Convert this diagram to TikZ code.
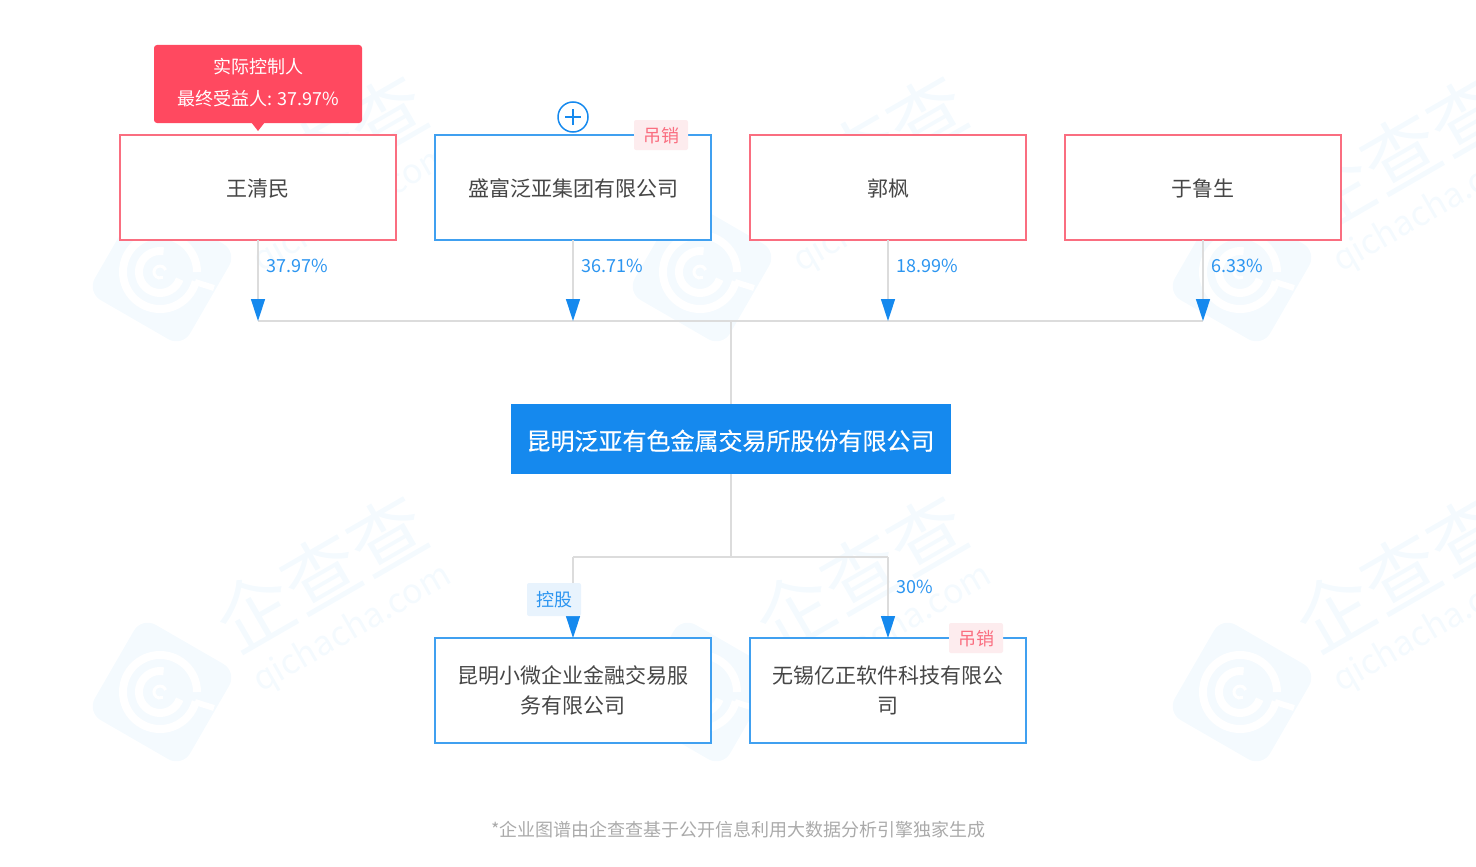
\documentclass[tikz,border=0pt]{standalone}
\usepackage{fontspec}
\usepackage{xcolor}
\usetikzlibrary{arrows.meta,positioning}
\setmainfont{Noto Sans CJK SC}
\newfontfamily\titlefont[FakeBold=0.35]{Noto Sans CJK SC}
\definecolor{nameblue}{RGB}{21,137,238}
\definecolor{boxblue}{RGB}{64,160,240}
\definecolor{boxred}{RGB}{250,110,128}
\definecolor{calloutred}{RGB}{255,73,96}
\definecolor{tagred}{RGB}{253,236,238}
\definecolor{tagblue}{RGB}{232,243,253}
\definecolor{linegrey}{RGB}{220,220,220}
\definecolor{textgrey}{RGB}{70,70,70}
\definecolor{footgrey}{RGB}{170,170,170}
\definecolor{markblue}{RGB}{244,250,254}
\tikzset{
  holder/.style={draw=boxred, fill=white, line width=2pt, minimum width=276pt, minimum height=105pt,
    inner sep=0pt, outer sep=0pt, align=center, text=textgrey, font=\fontsize{21}{30}\selectfont},
  firm/.style={holder, draw=boxblue},
  oneline/.style={text height=20.5pt, text depth=2pt},
  pct/.style={anchor=west, inner sep=0pt, text=nameblue!90!white, font=\fontsize{18}{18}\selectfont},
  tag/.style={fill=tagred, rounded corners=2pt, minimum width=54pt, minimum height=30pt, inner sep=0pt,
    text=boxred, text height=16pt, text depth=2pt, font=\fontsize{18}{18}\selectfont},
  bus/.style={draw=linegrey, line width=2pt},
  feed/.style={draw=linegrey, line width=1.5pt, -{Triangle[length=22pt,width=14pt,color=nameblue]}}
}
\newcommand{\qccmark}[2]{%
  \begin{scope}[shift={(#1,#2)}]
    \node [fill=markblue, rounded corners=16pt, rotate=-30, minimum size=110pt] (logo#1#2) at (0,0) {};
    \draw [white, line width=8pt] (35,0) arc[start angle=0, end angle=345, radius=37pt];
    \draw [white, line width=8pt] (1.6,-20.7) arc[start angle=80, end angle=340, radius=21pt];
    \draw [white, line width=3pt] (3.6,-2) arc[start angle=20, end angle=300, radius=6pt];
    \draw [white, line width=6pt] (33,10) -- (52,16);
    \node [rotate=30, text=markblue, font=\fontsize{76}{76}\selectfont] (brand#1#2) at (158,-120) {企查查};
    \node [rotate=30, text=markblue, font=\fontsize{34}{34}\selectfont] (site#1#2) at (191,-63) {qichacha.com};
  \end{scope}}
\begin{document}
\begin{tikzpicture}[x=1pt, y=-1pt, node distance=315pt]
        \clip (0,0) rectangle (1476,867);

        % Watermark
        \qccmark{162}{272}
        \qccmark{702}{272}
        \qccmark{1242}{272}
        \qccmark{162}{692}
        \qccmark{702}{692}
        \qccmark{1242}{692}

        % Shareholders
        \node [holder, oneline] (wang) at (258,187.5) {王清民};
        \node [firm, oneline, right of=wang] (shengfu) {盛富泛亚集团有限公司};
        \node [holder, oneline, right of=shengfu] (guo) {郭枫};
        \node [holder, oneline, right of=guo] (yu) {于鲁生};

        % Company
        \node [fill=nameblue, minimum width=440pt, minimum height=70pt, inner sep=0pt, outer sep=0pt, text=white,
          text height=24pt, text depth=2pt, font=\titlefont\fontsize{24}{24}\selectfont] (kunming) at (730.5,439) {昆明泛亚有色金属交易所股份有限公司};

        % Subsidiaries
        \node [firm, below of=shengfu, node distance=503pt] (xiaowei) {昆明小微企业金融交易服\\务有限公司};
        \node [firm, right of=xiaowei] (yizheng) {无锡亿正软件科技有限公\\司};

        % Junctions
        \coordinate (topmid) at (kunming |- 0,321);
        \coordinate (wangbus) at (wang |- topmid);
        \coordinate (shengfubus) at (shengfu |- topmid);
        \coordinate (guobus) at (guo |- topmid);
        \coordinate (yubus) at (yu |- topmid);
        \coordinate (lowmid) at (kunming |- 0,557);
        \coordinate (xiaoweibus) at (xiaowei |- lowmid);
        \coordinate (yizhengbus) at (yizheng |- lowmid);

        % Lines
        \draw [bus] (wangbus) -- (yubus);
        \draw [bus] (kunming) -- (topmid);
        \draw [bus] (kunming) -- (lowmid);
        \draw [bus] (xiaoweibus) -- (yizhengbus);

        % Arrows
        \draw [feed] (wang) -- (wangbus);
        \draw [feed] (shengfu) -- (shengfubus);
        \draw [feed] (guo) -- (guobus);
        \draw [feed] (yu) -- (yubus);
        \draw [feed] (xiaoweibus) -- (xiaowei);
        \draw [feed] (yizhengbus) -- (yizheng);

        % Percentages
        \node [pct] (wangpct) at (266,266) {37.97\%};
        \node [pct] (shengfupct) at (581,266) {36.71\%};
        \node [pct] (guopct) at (896,266) {18.99\%};
        \node [pct] (yupct) at (1211,266) {6.33\%};
        \node [pct] (yizhengpct) at (896,587) {30\%};
        \node [tag, fill=tagblue, text=nameblue!90!white, minimum height=33pt] (holdtag) at (554,599.5) {控股};

        % Status tags
        \node [tag] (shengfutag) at ([xshift=-50pt]shengfu.north east) {吊销};
        \node [tag] (yizhengtag) at ([xshift=-50pt]yizheng.north east) {吊销};

        % Expand button
        \node [circle, draw=nameblue, fill=white, line width=1.5pt, minimum size=30pt, inner sep=0pt] (expand) at ([yshift=18pt]shengfu.north) {};
        \draw [nameblue, line width=1.5pt] ([xshift=-8pt]expand.center) -- ([xshift=8pt]expand.center);
        \draw [nameblue, line width=1.5pt] ([yshift=-8pt]expand.center) -- ([yshift=8pt]expand.center);

        % Controller callout
        \fill [calloutred] (251,122) -- (265,122) -- (258,131) -- cycle;
        \node [fill=calloutred, rounded corners=3pt, minimum width=208pt, minimum height=78pt, inner sep=0pt] (callout) at ([yshift=51pt]wang.north) {};
        \node [inner sep=0pt, text=white, align=center, font=\fontsize{18}{32}\selectfont] (controller) at ([yshift=1.5pt]callout.center) {实际控制人\\最终受益人: 37.97\%};

        % Footnote
        \node [text=footgrey, font=\fontsize{18}{18}\selectfont] (footnote) at (738.5,830) {*企业图谱由企查查基于公开信息利用大数据分析引擎独家生成};
    \end{tikzpicture}
\end{document}
